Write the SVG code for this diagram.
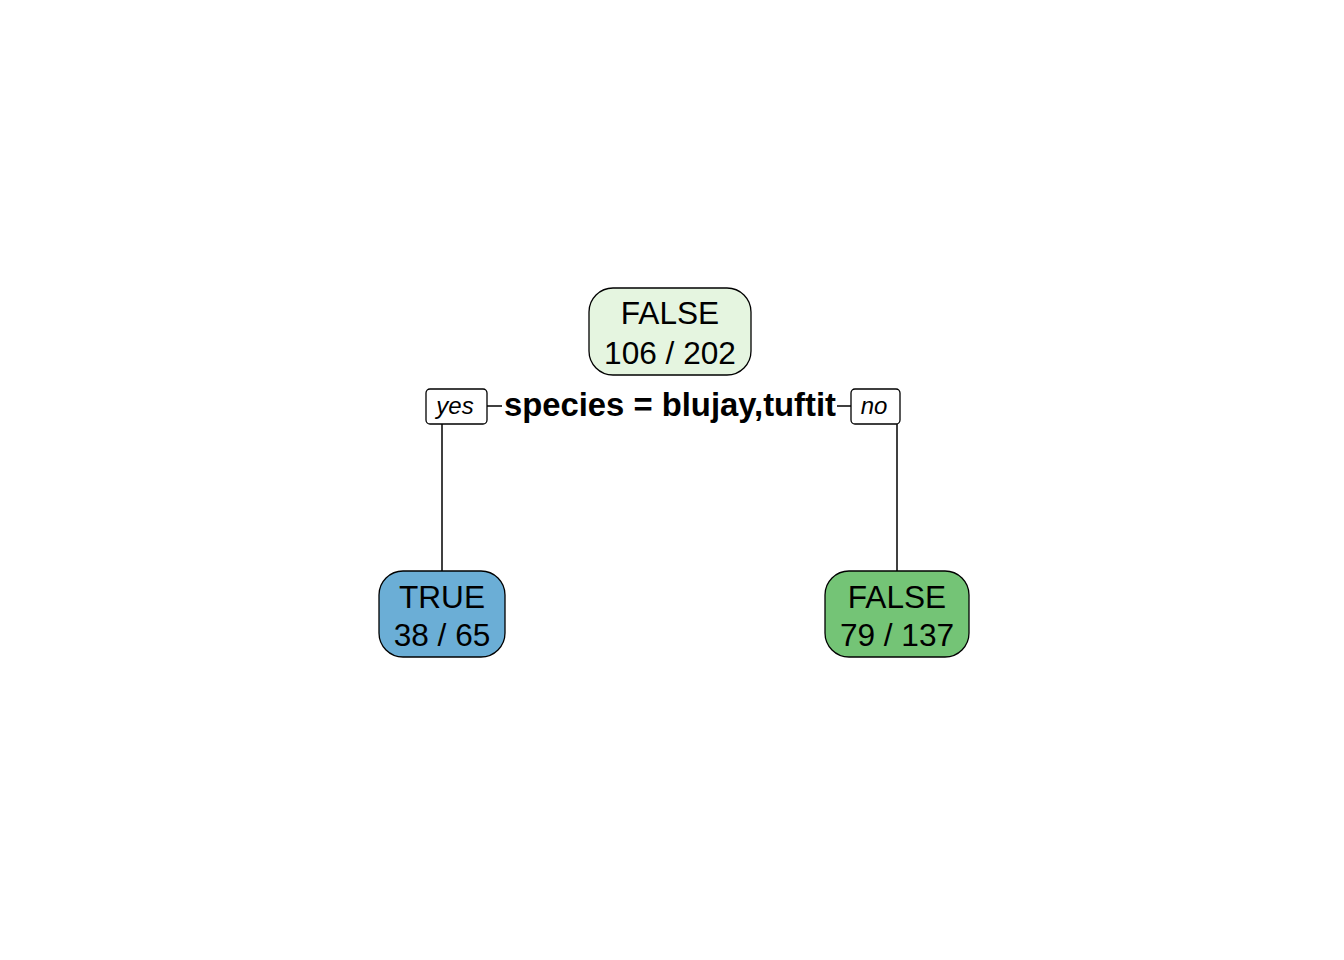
<svg xmlns="http://www.w3.org/2000/svg" width="1344" height="960" viewBox="0 0 1344 960">
<style>
.box{stroke:#000;stroke-width:1.3}
.t{font-family:"Liberation Sans",Arial,sans-serif;font-size:31.6px;text-anchor:middle;fill:#000}
.lab{font-family:"Liberation Sans",Arial,sans-serif;font-size:24px;font-style:italic;text-anchor:middle;fill:#000}
.split{font-family:"Liberation Sans",Arial,sans-serif;font-size:32.8px;font-weight:bold;text-anchor:middle;fill:#000}
.c{stroke:#000;stroke-width:1.5;fill:none}
</style>
<rect width="1344" height="960" fill="#fff"/>
<g id="connectors">
<line class="c" x1="442" y1="424" x2="442" y2="571"/>
<line class="c" x1="897" y1="424" x2="897" y2="571"/>
<line class="c" x1="487" y1="406" x2="502" y2="406"/>
<line class="c" x1="837" y1="406" x2="851" y2="406"/>
</g>
<g id="root">
<rect class="box" x="589" y="288" width="162" height="87" rx="24" fill="#E5F5E0"/>
<text class="t" x="670" y="324">FALSE</text>
<text class="t" x="670" y="364">106 / 202</text>
</g>
<g id="split">
<text class="split" x="670" y="416">species = blujay,tuftit</text>
</g>
<g id="yes">
<rect class="box" x="426" y="389" width="61" height="35" rx="4" fill="#fff"/>
<text class="lab" x="455" y="414">yes</text>
</g>
<g id="no">
<rect class="box" x="851" y="389" width="49" height="35" rx="4" fill="#fff"/>
<text class="lab" x="874" y="414">no</text>
</g>
<g id="leaf-true">
<rect class="box" x="379" y="571" width="126" height="86" rx="24" fill="#6BAED6"/>
<text class="t" x="442" y="608">TRUE</text>
<text class="t" x="442" y="646">38 / 65</text>
</g>
<g id="leaf-false">
<rect class="box" x="825" y="571" width="144" height="86" rx="24" fill="#74C476"/>
<text class="t" x="897" y="608">FALSE</text>
<text class="t" x="897" y="646">79 / 137</text>
</g>
</svg>
